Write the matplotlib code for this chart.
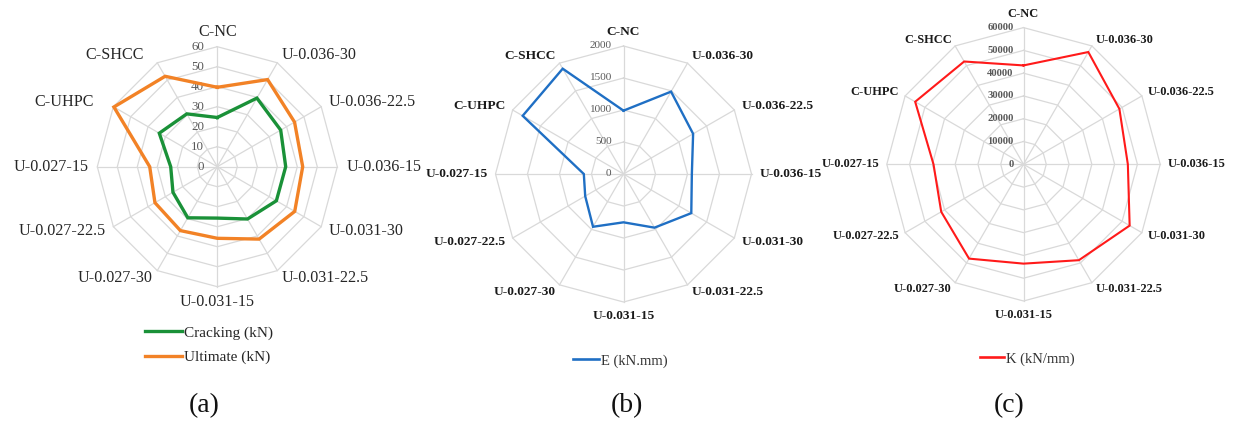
import numpy as np
import matplotlib
matplotlib.use("Agg")
import matplotlib.pyplot as plt
from matplotlib.lines import Line2D

# Specimens, clockwise from the top of each radar
categories = ["C-NC", "U-0.036-30", "U-0.036-22.5", "U-0.036-15",
              "U-0.031-30", "U-0.031-22.5", "U-0.031-15",
              "U-0.027-30", "U-0.027-22.5", "U-0.027-15",
              "C-UHPC", "C-SHCC"]

# (a) loads in kN
cracking = [24.6, 39.6, 36.6, 34.2, 34.1, 30.2, 25.7, 29.5, 25.6, 23.3, 33.5, 30.5]
ultimate = [39.7, 50.3, 44.6, 42.7, 44.7, 41.8, 35.8, 36.9, 36.0, 33.8, 59.7, 52.2]
# (b) energy absorption, kN.mm
energy = [990, 1486, 1256, 1068, 1223, 968, 755, 952, 691, 620, 1819, 1900]
# (c) stiffness, kN/mm
stiffness = [43400, 56900, 48600, 45800, 53800, 48600, 43600, 47800, 41700, 39500, 54900, 52100]

ticks_a = [0, 10, 20, 30, 40, 50, 60]
ticks_b = [0, 500, 1000, 1500, 2000]
ticks_c = [0, 10000, 20000, 30000, 40000, 50000, 60000]

plt.rcParams['font.family'] = ['Liberation Serif', 'DejaVu Serif']

W, H = 1236, 425
fig = plt.figure(figsize=(W / 100, H / 100), dpi=100)
PT = 0.72  # points per pixel at 100 dpi

angles = np.arange(len(categories)) * 2 * np.pi / len(categories)
GRID = '#d9d9d9'


def to_xy(values):
    v = np.append(np.asarray(values, float), values[0])
    a = np.append(angles, angles[0])
    return v * np.sin(a), v * np.cos(a)


def radar_axes(cx, cy, radius_px, rmax, half_px):
    lim = rmax * half_px / radius_px
    ax = fig.add_axes([(cx - half_px) / W, (H - cy - half_px) / H,
                       2 * half_px / W, 2 * half_px / H])
    ax.set_xlim(-lim, lim)
    ax.set_ylim(-lim, lim)
    ax.axis('off')
    return ax


def draw_frame(ax, ticks, label_size, label_weight, label_color,
               tick_size, tick_weight, tick_gap, pad_side, pad_vert, nudge=None):
    nudge = nudge or {}
    rmax = ticks[-1]
    for t in ticks[1:]:
        x, y = to_xy([t] * len(categories))
        ax.plot(x, y, color=GRID, lw=0.9, zorder=1, solid_joinstyle='miter')
    for a in angles:
        ax.plot([0, rmax * np.sin(a)], [0, rmax * np.cos(a)], color=GRID, lw=0.9, zorder=1)
    for t in ticks:
        ax.annotate(f"{t}", xy=(0, t), xytext=(-tick_gap * PT, 0), textcoords='offset points',
                    ha='right', va='center', fontsize=tick_size, color='#595959',
                    fontweight=tick_weight, zorder=3)
    for a, name in zip(angles, categories):
        s, c = np.sin(a), np.cos(a)
        if abs(s) < 0.1:
            ha, pad = 'center', pad_vert
        else:
            ha, pad = ('left' if s > 0 else 'right'), pad_side
        dx = pad * s - nudge.get(name, 0)
        ax.annotate(name, xy=(rmax * s, rmax * c),
                    xytext=(dx * PT, pad * c * PT), textcoords='offset points',
                    ha=ha, va='center', fontsize=label_size, fontweight=label_weight,
                    color=label_color, annotation_clip=False)


# ---- (a) cracking and ultimate loads ----
ax_a = radar_axes(217.3, 166.7, 120, 60, 165)
draw_frame(ax_a, ticks_a, 11.6, 'normal', '#262626', 9.4, 'normal', 13, 9, 15,
           nudge={'C-UHPC': 12, 'C-SHCC': 9})
xa, ya = to_xy(cracking)
ax_a.plot(xa, ya, color='#1a9138', lw=2.4, zorder=4, solid_joinstyle='miter')
xb, yb = to_xy(ultimate)
ax_a.plot(xb, yb, color='#f28226', lw=2.4, zorder=4, solid_joinstyle='miter')
fig.legend([Line2D([], [], color='#1a9138', lw=2.4), Line2D([], [], color='#f28226', lw=2.4)],
           ['Cracking (kN)', 'Ultimate (kN)'],
           loc='center left', bbox_to_anchor=(145 / W, 1 - 345 / H),
           frameon=False, fontsize=11, handlelength=2.4, handletextpad=0.15,
           labelspacing=0.7, borderpad=0, borderaxespad=0, labelcolor='#262626')

# ---- (b) energy absorption ----
ax_b = radar_axes(623.5, 174, 128, 2000, 170)
draw_frame(ax_b, ticks_b, 9.6, 'bold', '#1a1a1a', 8.1, 'normal', 12, 8, 14)
xe, ye = to_xy(energy)
ax_b.plot(xe, ye, color='#1f6fc4', lw=1.7, zorder=4, solid_joinstyle='miter')
fig.legend([Line2D([], [], color='#1f6fc4', lw=1.9)], ['E (kN.mm)'],
           loc='center left', bbox_to_anchor=(573 / W, 1 - 361 / H),
           frameon=False, fontsize=10.5, handlelength=1.8, handletextpad=0.1,
           borderpad=0, borderaxespad=0, labelcolor='#333333')

# ---- (c) stiffness ----
ax_c = radar_axes(1023.5, 164.3, 136.7, 60000, 170)
draw_frame(ax_c, ticks_c, 8.9, 'bold', '#1a1a1a', 7.7, 'bold', 10, 7, 14)
xk, yk = to_xy(stiffness)
ax_c.plot(xk, yk, color='#ff1a1a', lw=1.5, zorder=4, solid_joinstyle='miter')
fig.legend([Line2D([], [], color='#ff1a1a', lw=1.9)], ['K (kN/mm)'],
           loc='center left', bbox_to_anchor=(980 / W, 1 - 359 / H),
           frameon=False, fontsize=10.5, handlelength=1.65, handletextpad=0.1,
           borderpad=0, borderaxespad=0, labelcolor='#333333')

# panel captions
for x, tag in [(204, '(a)'), (627, '(b)'), (1009, '(c)')]:
    fig.text(x / W, 1 - 406 / H, tag, ha='center', va='center', fontsize=20, color='#111111')

fig.savefig('out.png', dpi=100, facecolor='white')
